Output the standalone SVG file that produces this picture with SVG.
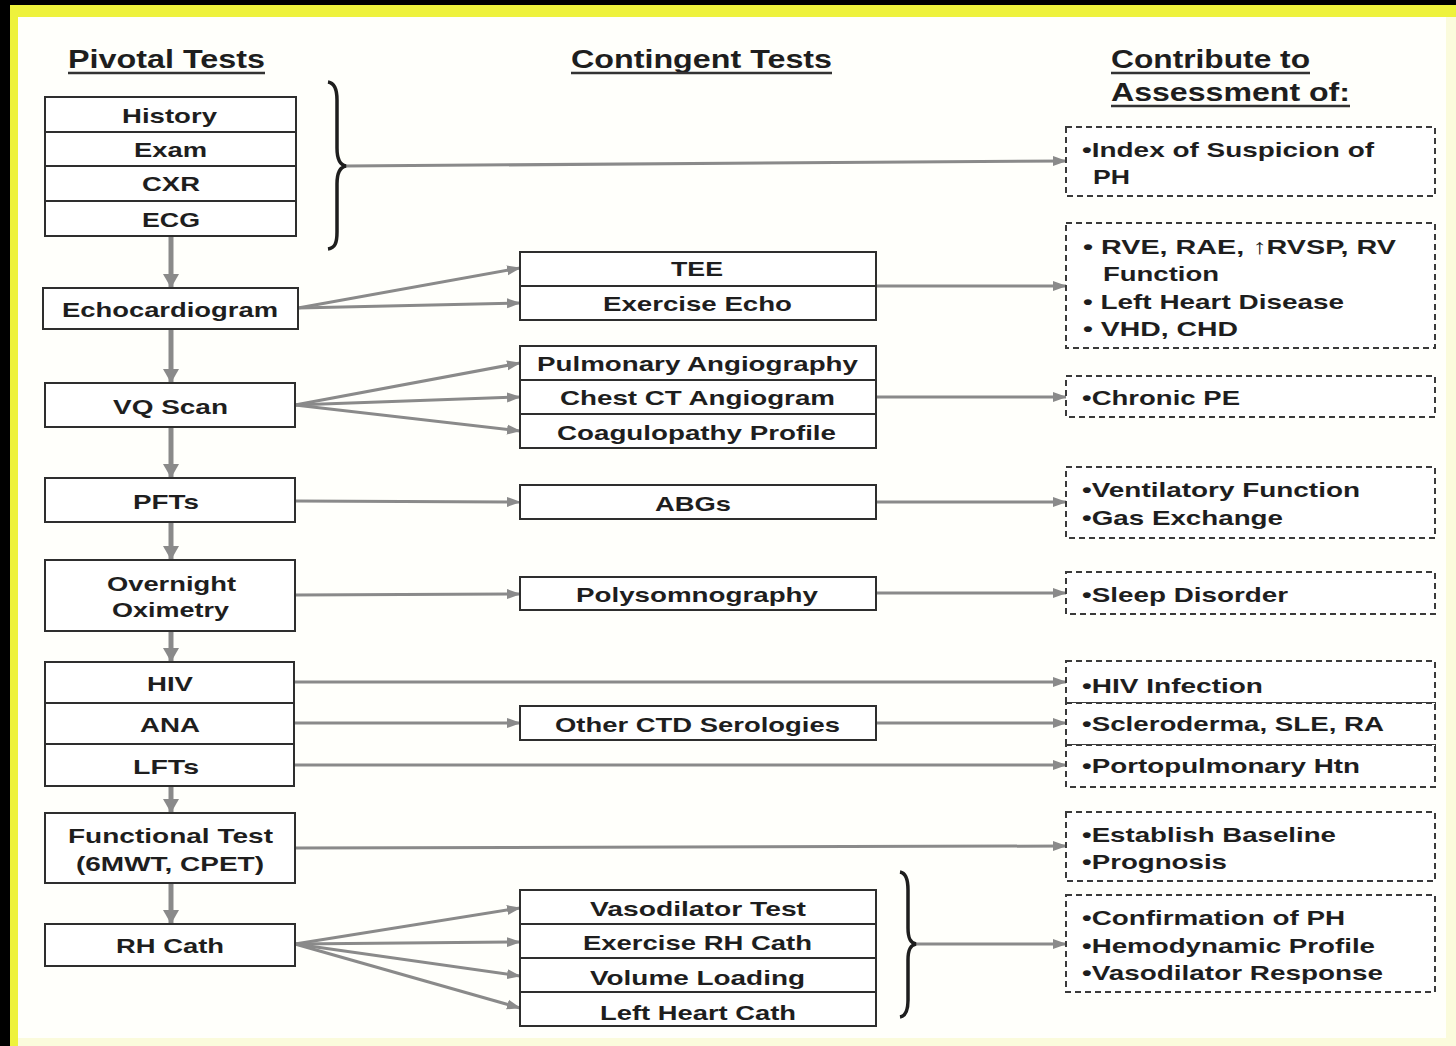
<svg xmlns="http://www.w3.org/2000/svg" width="1456" height="1046" viewBox="0 0 1456 1046">
<style>
text{font-family:"Liberation Sans",Arial,sans-serif;font-weight:bold;fill:#1e1e1e;}
.t{font-size:26px;}
.n{font-size:21px;}
.box{fill:#fff;stroke:#2e2e2e;stroke-width:2;}
.dash{fill:#fff;stroke:#3a3a3a;stroke-width:2;stroke-dasharray:6 4;}
.c{stroke:#8a8a8a;stroke-width:3;fill:none;marker-end:url(#ah);}
.v{stroke:#8a8a8a;stroke-width:5;fill:none;marker-end:url(#vh);}
.ul{stroke:#333;stroke-width:2.5;}
.brace{fill:none;stroke:#1e1e1e;stroke-width:3.5;}
</style>
<defs>
<marker id="ah" markerUnits="userSpaceOnUse" markerWidth="14" markerHeight="12" refX="13" refY="6" orient="auto"><path d="M0,1 L14,6 L0,11 Z" fill="#8a8a8a"/></marker>
<marker id="vh" markerUnits="userSpaceOnUse" markerWidth="18" markerHeight="18" refX="13" refY="9" orient="auto"><path d="M0,1 L14,9 L0,17 Z" fill="#8a8a8a"/></marker>
</defs>
<rect x="0" y="0" width="1456" height="1046" fill="#000"/>
<rect x="10" y="5" width="1446" height="1041" fill="#eef23c"/>
<rect x="18" y="17" width="1438" height="1029" fill="#fbfbdc"/>
<rect x="18" y="17" width="1428" height="1021" fill="#fffffb"/>

<g id="titles">
<text class="t" x="68" y="68" textLength="197" lengthAdjust="spacingAndGlyphs">Pivotal Tests</text>
<line class="ul" x1="68" y1="73" x2="265" y2="73"/>
<text class="t" x="571" y="68" textLength="261" lengthAdjust="spacingAndGlyphs">Contingent Tests</text>
<line class="ul" x1="571" y1="73" x2="832" y2="73"/>
<text class="t" x="1111" y="68" textLength="199" lengthAdjust="spacingAndGlyphs">Contribute to</text>
<line class="ul" x1="1111" y1="73" x2="1310" y2="73"/>
<text class="t" x="1111" y="101" textLength="239" lengthAdjust="spacingAndGlyphs">Assessment of:</text>
<line class="ul" x1="1111" y1="106" x2="1350" y2="106"/>
</g>

<g id="connectors">
<line class="v" x1="171" y1="236" x2="171" y2="287"/>
<line class="v" x1="171" y1="329" x2="171" y2="382"/>
<line class="v" x1="171" y1="427" x2="171" y2="477"/>
<line class="v" x1="171" y1="522" x2="171" y2="559"/>
<line class="v" x1="171" y1="631" x2="171" y2="661"/>
<line class="v" x1="171" y1="786" x2="171" y2="812"/>
<line class="v" x1="171" y1="883" x2="171" y2="923"/>
<line class="c" x1="346" y1="166" x2="1066" y2="161"/>
<line class="c" x1="298" y1="308" x2="520" y2="268"/>
<line class="c" x1="298" y1="308" x2="520" y2="303"/>
<line class="c" x1="876" y1="286" x2="1066" y2="286"/>
<line class="c" x1="295" y1="405" x2="520" y2="363"/>
<line class="c" x1="295" y1="405" x2="520" y2="397"/>
<line class="c" x1="295" y1="405" x2="520" y2="431"/>
<line class="c" x1="876" y1="397" x2="1066" y2="397"/>
<line class="c" x1="295" y1="501" x2="520" y2="502"/>
<line class="c" x1="876" y1="502" x2="1066" y2="502"/>
<line class="c" x1="295" y1="595" x2="520" y2="594"/>
<line class="c" x1="876" y1="593" x2="1066" y2="593"/>
<line class="c" x1="294" y1="682" x2="1066" y2="682"/>
<line class="c" x1="294" y1="723" x2="520" y2="723"/>
<line class="c" x1="876" y1="723" x2="1066" y2="723"/>
<line class="c" x1="294" y1="765" x2="1066" y2="765"/>
<line class="c" x1="295" y1="848" x2="1066" y2="846"/>
<line class="c" x1="295" y1="944" x2="520" y2="908"/>
<line class="c" x1="295" y1="944" x2="520" y2="942"/>
<line class="c" x1="295" y1="944" x2="520" y2="976"/>
<line class="c" x1="295" y1="944" x2="520" y2="1008"/>
<line class="c" x1="916" y1="944" x2="1066" y2="944"/>
</g>

<g id="brace-pivotal"><path class="brace" d="M328,82 C335,83 337,90 337,100 L337,148 C337,160 340,165 346,166 C340,167 337,172 337,184 L337,232 C337,243 335,248 328,249"/></g>
<g id="brace-rhcath"><path class="brace" d="M900,872 C906,873 908,880 908,890 L908,928 C908,938 910,943 916,944 C910,945 908,950 908,960 L908,1000 C908,1010 906,1016 900,1017"/></g>

<g id="node-history-stack">
<rect class="box" x="45" y="97" width="251" height="139"/>
<line stroke="#2e2e2e" stroke-width="2" x1="45" y1="132" x2="296" y2="132"/>
<line stroke="#2e2e2e" stroke-width="2" x1="45" y1="166" x2="296" y2="166"/>
<line stroke="#2e2e2e" stroke-width="2" x1="45" y1="201" x2="296" y2="201"/>
<text class="n" x="122" y="123" textLength="95" lengthAdjust="spacingAndGlyphs">History</text>
<text class="n" x="134" y="157" textLength="73" lengthAdjust="spacingAndGlyphs">Exam</text>
<text class="n" x="142" y="191" textLength="58" lengthAdjust="spacingAndGlyphs">CXR</text>
<text class="n" x="142" y="227" textLength="58" lengthAdjust="spacingAndGlyphs">ECG</text>
</g>
<g id="node-echo"><rect class="box" x="43" y="288" width="255" height="41"/><text class="n" x="62" y="317" textLength="216" lengthAdjust="spacingAndGlyphs">Echocardiogram</text></g>
<g id="node-vq"><rect class="box" x="45" y="383" width="250" height="44"/><text class="n" x="113" y="414" textLength="115" lengthAdjust="spacingAndGlyphs">VQ Scan</text></g>
<g id="node-pfts"><rect class="box" x="45" y="478" width="250" height="44"/><text class="n" x="133" y="509" textLength="66" lengthAdjust="spacingAndGlyphs">PFTs</text></g>
<g id="node-oximetry"><rect class="box" x="45" y="560" width="250" height="71"/><text class="n" x="107" y="591" textLength="129" lengthAdjust="spacingAndGlyphs">Overnight</text><text class="n" x="112" y="617" textLength="117" lengthAdjust="spacingAndGlyphs">Oximetry</text></g>
<g id="node-serology-stack">
<rect class="box" x="45" y="662" width="249" height="124"/>
<line stroke="#2e2e2e" stroke-width="2" x1="45" y1="703" x2="294" y2="703"/>
<line stroke="#2e2e2e" stroke-width="2" x1="45" y1="744" x2="294" y2="744"/>
<text class="n" x="147" y="691" textLength="46" lengthAdjust="spacingAndGlyphs">HIV</text>
<text class="n" x="140" y="732" textLength="60" lengthAdjust="spacingAndGlyphs">ANA</text>
<text class="n" x="133" y="774" textLength="66" lengthAdjust="spacingAndGlyphs">LFTs</text>
</g>
<g id="node-functional"><rect class="box" x="45" y="813" width="250" height="70"/><text class="n" x="68" y="843" textLength="205" lengthAdjust="spacingAndGlyphs">Functional Test</text><text class="n" x="76" y="871" textLength="188" lengthAdjust="spacingAndGlyphs">(6MWT, CPET)</text></g>
<g id="node-rhcath"><rect class="box" x="45" y="924" width="250" height="42"/><text class="n" x="116" y="953" textLength="108" lengthAdjust="spacingAndGlyphs">RH Cath</text></g>

<g id="node-tee-stack">
<rect class="box" x="520" y="252" width="356" height="68"/>
<line stroke="#2e2e2e" stroke-width="2" x1="520" y1="286" x2="876" y2="286"/>
<text class="n" x="671" y="276" textLength="52" lengthAdjust="spacingAndGlyphs">TEE</text>
<text class="n" x="603" y="311" textLength="189" lengthAdjust="spacingAndGlyphs">Exercise Echo</text>
</g>
<g id="node-angio-stack">
<rect class="box" x="520" y="346" width="356" height="102"/>
<line stroke="#2e2e2e" stroke-width="2" x1="520" y1="380" x2="876" y2="380"/>
<line stroke="#2e2e2e" stroke-width="2" x1="520" y1="414" x2="876" y2="414"/>
<text class="n" x="537" y="371" textLength="321" lengthAdjust="spacingAndGlyphs">Pulmonary Angiography</text>
<text class="n" x="560" y="405" textLength="275" lengthAdjust="spacingAndGlyphs">Chest CT Angiogram</text>
<text class="n" x="557" y="440" textLength="279" lengthAdjust="spacingAndGlyphs">Coagulopathy Profile</text>
</g>
<g id="node-abgs"><rect class="box" x="520" y="485" width="356" height="34"/><text class="n" x="655" y="511" textLength="76" lengthAdjust="spacingAndGlyphs">ABGs</text></g>
<g id="node-psg"><rect class="box" x="520" y="577" width="356" height="33"/><text class="n" x="576" y="602" textLength="242" lengthAdjust="spacingAndGlyphs">Polysomnography</text></g>
<g id="node-ctd"><rect class="box" x="520" y="706" width="356" height="34"/><text class="n" x="555" y="732" textLength="285" lengthAdjust="spacingAndGlyphs">Other CTD Serologies</text></g>
<g id="node-cath-stack">
<rect class="box" x="520" y="890" width="356" height="136"/>
<line stroke="#2e2e2e" stroke-width="2" x1="520" y1="924" x2="876" y2="924"/>
<line stroke="#2e2e2e" stroke-width="2" x1="520" y1="958" x2="876" y2="958"/>
<line stroke="#2e2e2e" stroke-width="2" x1="520" y1="992" x2="876" y2="992"/>
<text class="n" x="590" y="916" textLength="216" lengthAdjust="spacingAndGlyphs">Vasodilator Test</text>
<text class="n" x="583" y="950" textLength="229" lengthAdjust="spacingAndGlyphs">Exercise RH Cath</text>
<text class="n" x="590" y="985" textLength="215" lengthAdjust="spacingAndGlyphs">Volume Loading</text>
<text class="n" x="600" y="1020" textLength="196" lengthAdjust="spacingAndGlyphs">Left Heart Cath</text>
</g>

<g id="out-suspicion"><rect class="dash" x="1066" y="127" width="369" height="69"/><text class="n" x="1082" y="157" textLength="292" lengthAdjust="spacingAndGlyphs">•Index of Suspicion of</text><text class="n" x="1093" y="184" textLength="37" lengthAdjust="spacingAndGlyphs">PH</text></g>
<g id="out-echo"><rect class="dash" x="1066" y="223" width="369" height="125"/>
<text class="n" x="1083" y="254" textLength="313" lengthAdjust="spacingAndGlyphs">• RVE, RAE, ↑RVSP, RV</text>
<text class="n" x="1103" y="281" textLength="116" lengthAdjust="spacingAndGlyphs">Function</text>
<text class="n" x="1083" y="309" textLength="261" lengthAdjust="spacingAndGlyphs">• Left Heart Disease</text>
<text class="n" x="1083" y="336" textLength="155" lengthAdjust="spacingAndGlyphs">• VHD, CHD</text></g>
<g id="out-pe"><rect class="dash" x="1066" y="376" width="369" height="41"/><text class="n" x="1082" y="405" textLength="158" lengthAdjust="spacingAndGlyphs">•Chronic PE</text></g>
<g id="out-vent"><rect class="dash" x="1066" y="467" width="369" height="71"/><text class="n" x="1082" y="497" textLength="278" lengthAdjust="spacingAndGlyphs">•Ventilatory Function</text><text class="n" x="1082" y="525" textLength="201" lengthAdjust="spacingAndGlyphs">•Gas Exchange</text></g>
<g id="out-sleep"><rect class="dash" x="1066" y="572" width="369" height="42"/><text class="n" x="1082" y="602" textLength="206" lengthAdjust="spacingAndGlyphs">•Sleep Disorder</text></g>
<g id="out-hiv"><rect class="dash" x="1066" y="661" width="369" height="42"/><text class="n" x="1082" y="693" textLength="181" lengthAdjust="spacingAndGlyphs">•HIV Infection</text></g>
<g id="out-ctd"><rect class="dash" x="1066" y="703" width="369" height="42"/><text class="n" x="1082" y="731" textLength="302" lengthAdjust="spacingAndGlyphs">•Scleroderma, SLE, RA</text></g>
<g id="out-porto"><rect class="dash" x="1066" y="745" width="369" height="42"/><text class="n" x="1082" y="773" textLength="278" lengthAdjust="spacingAndGlyphs">•Portopulmonary Htn</text></g>
<g id="out-baseline"><rect class="dash" x="1066" y="812" width="369" height="69"/><text class="n" x="1082" y="842" textLength="254" lengthAdjust="spacingAndGlyphs">•Establish Baseline</text><text class="n" x="1082" y="869" textLength="145" lengthAdjust="spacingAndGlyphs">•Prognosis</text></g>
<g id="out-confirm"><rect class="dash" x="1066" y="895" width="369" height="97"/>
<text class="n" x="1082" y="925" textLength="263" lengthAdjust="spacingAndGlyphs">•Confirmation of PH</text>
<text class="n" x="1082" y="953" textLength="293" lengthAdjust="spacingAndGlyphs">•Hemodynamic Profile</text>
<text class="n" x="1082" y="980" textLength="301" lengthAdjust="spacingAndGlyphs">•Vasodilator Response</text></g>
</svg>
